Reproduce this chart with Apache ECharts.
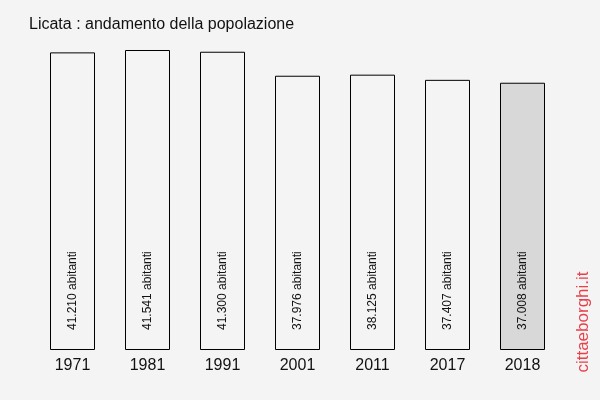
<!DOCTYPE html>
<html><head><meta charset="utf-8">
<script src="https://cdn.jsdelivr.net/npm/echarts@6/dist/echarts.min.js"></script>
<style>html,body{margin:0;padding:0;background:#f4f4f4}#c{width:600px;height:400px}</style>
</head><body><div id="c"></div>
<script>
const categories = ['1971','1981','1991','2001','2011','2017','2018'];
const population = [41210, 41541, 41300, 37976, 38125, 37407, 37008];
const labels = ['41.210 abitanti','41.541 abitanti','41.300 abitanti','37.976 abitanti','38.125 abitanti','37.407 abitanti','37.008 abitanti'];
const title = 'Licata : andamento della popolazione';
const watermark = 'cittaeborghi.it';

const chart = echarts.init(document.getElementById('c'), null, {renderer:'canvas'});
chart.setOption({
  backgroundColor:'#f4f4f4',
  animation:false,
  title:{text:title, left:24, top:12, textStyle:{fontFamily:'Liberation Sans, Arial', fontSize:16, fontWeight:'normal', color:'#111'}},
  grid:{left:35, right:40, top:50, bottom:50},
  xAxis:{type:'category', data:categories, axisLine:{show:false}, axisTick:{show:false},
    axisLabel:{fontFamily:'Liberation Sans, Arial', fontSize:16, color:'#111', margin:8}},
  yAxis:{type:'value', min:0, max:41541, show:false, splitLine:{show:false}},
  series:[{type:'bar', barWidth:45,
    data:population.map((v,i)=>({value:v, itemStyle:{color: i===population.length-1 ? '#d8d8d8' : '#f4f4f4', borderColor:'#000', borderWidth:1}})),
    label:{show:true, position:'insideBottom', rotate:90, align:'left', verticalAlign:'middle', distance:20,
      fontFamily:'Liberation Sans, Arial', fontSize:12, color:'#111',
      formatter:p=>labels[p.dataIndex]}
  }],
  graphic:[{type:'text', x:583, y:322, rotation:Math.PI/2,
    style:{text:watermark, fontFamily:'Liberation Sans, Arial', fontSize:17, fill:'#e8404a', align:'center', verticalAlign:'middle'}}]
});
</script></body></html>
